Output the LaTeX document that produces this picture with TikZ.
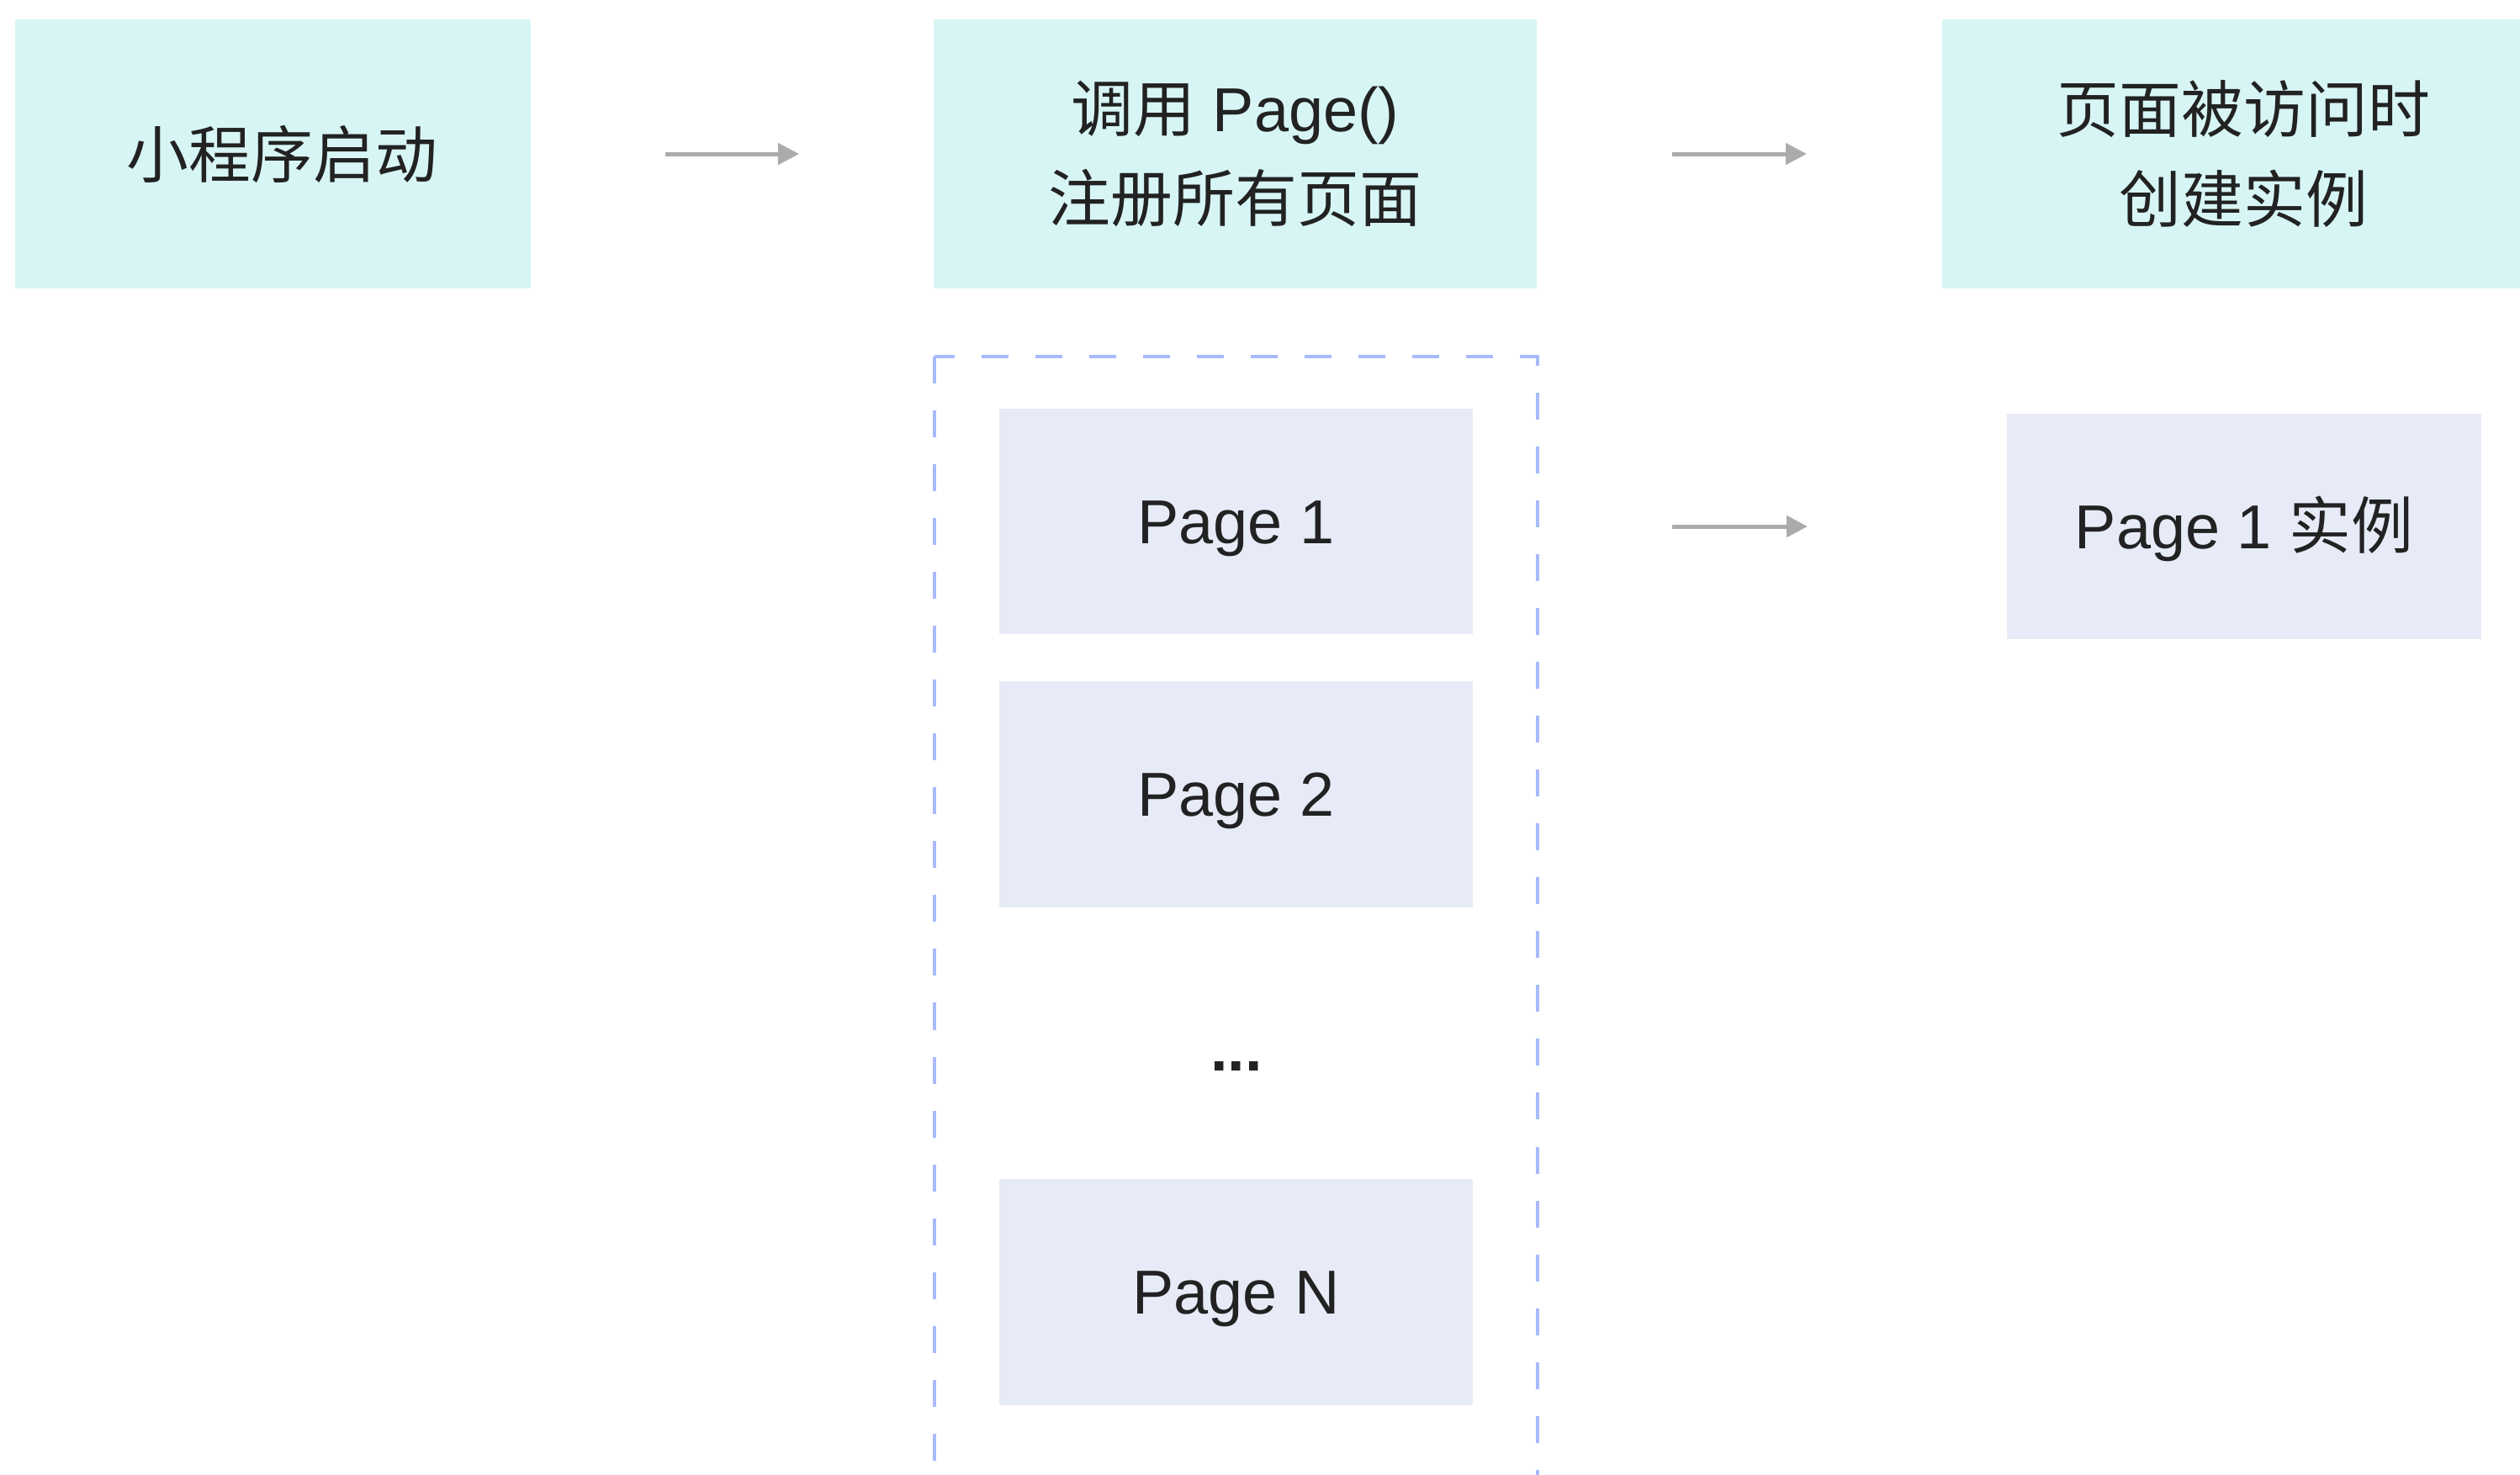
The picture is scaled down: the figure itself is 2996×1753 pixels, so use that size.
\documentclass[tikz,border=0pt]{standalone}
\usepackage{fontspec}
\setmainfont{Liberation Sans}
\newfontfamily\cjk{Noto Sans CJK SC}
\usetikzlibrary{arrows.meta}
\definecolor{cyanfill}{HTML}{D7F5F5}
\definecolor{pagefill}{HTML}{E7EBF7}
\definecolor{dashblue}{HTML}{A8BAFC}
\definecolor{arrowgray}{HTML}{ABABAB}
\definecolor{txt}{HTML}{222222}
\begin{document}
\begin{tikzpicture}[x=0.01cm,y=-0.01cm,
  every node/.style={font=\fontsize{21}{30.5}\selectfont, text=txt, inner sep=0pt, align=center},
  stepbox/.style={fill=cyanfill, minimum width=7.17cm, minimum height=3.2cm},
  pagebox/.style={fill=pagefill, minimum width=5.63cm, minimum height=2.68cm, text height=15pt, text depth=0pt},
  flow/.style={draw=arrowgray, line width=0.05cm, -{Triangle[length=0.25cm,width=0.25cm]}},
  group/.style={draw=dashblue, line width=0.045cm, dash pattern=on 0.32cm off 0.32cm}
]
\useasboundingbox (0,0) rectangle (2996,1753);
\clip (0,0) rectangle (2996,1753);
\fill[white] (0,0) rectangle (2996,1753);

\node[stepbox, minimum width=6.13cm] (start) at (324.5,183) {\hspace*{0.22cm}{\cjk 小程序启动}};
\node[stepbox] (reg) at (1468.5,183) {{\cjk 调用} Page()\\{\cjk 注册所有页面}};
\node[stepbox] (visit) at (2667.5,183) {{\cjk 页面被访问时}\\{\cjk 创建实例}};

\draw[group] (1111,424) rectangle (1828,1800);

\node[pagebox] (p1) at (1469.5,620) {Page 1};
\node[pagebox] (p2) at (1469.5,944.5) {Page 2};
\node[anchor=base] (dots) at (1470,1273) {\bfseries ...};
\node[pagebox] (pn) at (1469.5,1536.5) {Page N};

\node[pagebox, minimum width=5.64cm] (inst) at (2668,626) {Page 1 {\cjk 实例}};

\draw[flow, shorten <=1.59cm, shorten >=1.59cm] (start.east) -- (reg.west);
\draw[flow, shorten <=1.6cm, shorten >=1.6cm] (reg.east) -- (visit.west);
\draw[flow, shorten <=2.36cm, shorten >=2.36cm] (p1.east |- inst.west) -- (inst.west);
\end{tikzpicture}
\end{document}
